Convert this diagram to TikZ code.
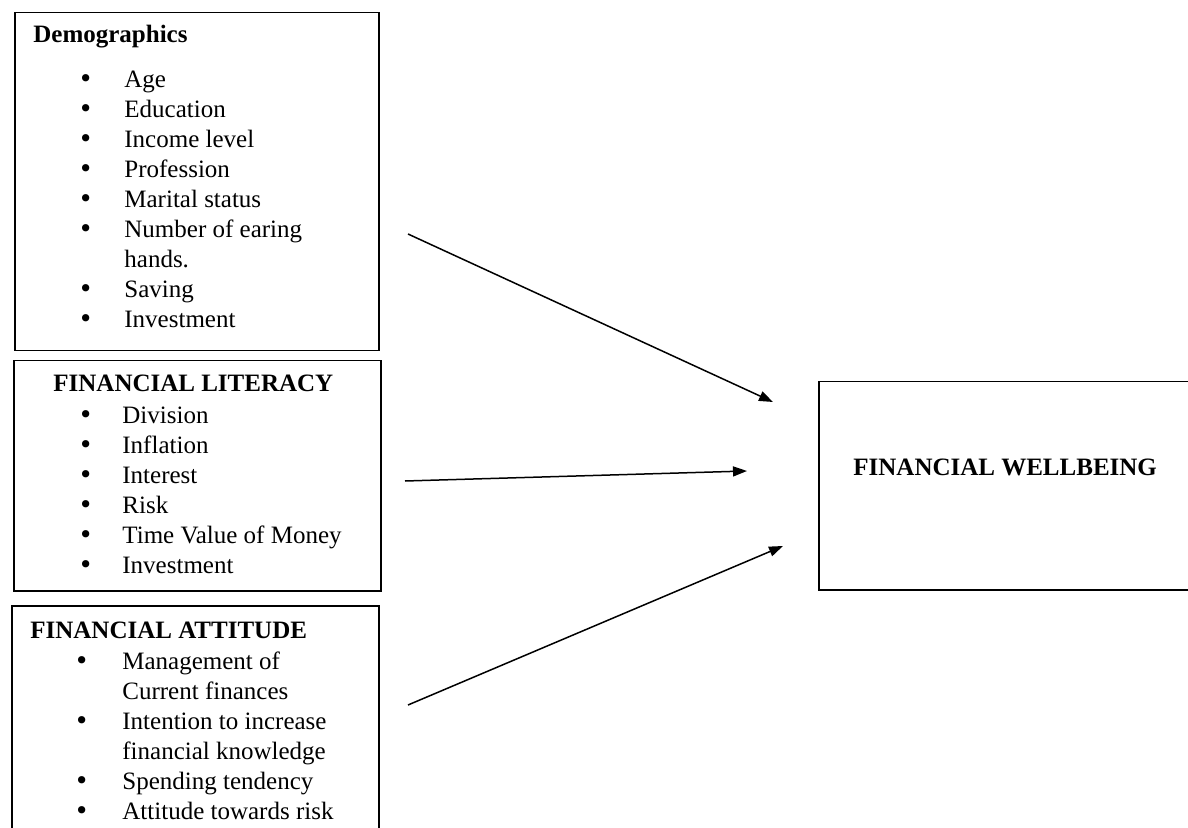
\documentclass[tikz,border=0pt]{standalone}
\usepackage{fontspec}
\setmainfont{Liberation Serif}
\newfontfamily\dotfont{DejaVu Sans}
\usetikzlibrary{arrows.meta}
\newcommand{\blt}{{\dotfont •}}

\begin{document}
\begin{tikzpicture}[x=0.5pt,y=-0.5pt,
  every node/.style={font=\fontsize{12.5}{15}\selectfont, inner sep=0pt},
  box/.style={draw, line width=0.75pt, anchor=north west},
  head/.style={font=\fontsize{12.5}{15}\selectfont\bfseries, anchor=base west},
  items/.style={anchor=base west},
  link/.style={line width=0.75pt, -{Triangle[length=7pt,width=5pt]}}]
\useasboundingbox (0,0) rectangle (1188,828);
% left boxes
\node[box, minimum width=182pt, minimum height=169pt] (demobox) at (14,12) {};
\node[head] (demohead) at (33,43) {Demographics};
\node[items] (demolist) at (78,88) {\begin{tabular}[t]{@{}p{23pt}@{}l@{}}
\blt & Age\\
\blt & Education\\
\blt & Income level\\
\blt & Profession\\
\blt & Marital status\\
\blt & Number of earing\\
 & hands.\\
\blt & Saving\\
\blt & Investment
\end{tabular}};
\node[box, minimum width=183.5pt, minimum height=115pt] (litbox) at (13,360) {};
\node[head] (lithead) at (53,392) {FINANCIAL LITERACY};
\node[items] (litlist) at (78,423) {\begin{tabular}[t]{@{}p{22pt}@{}l@{}}
\blt & Division\\
\blt & Inflation\\
\blt & Interest\\
\blt & Risk\\
\blt & Time Value of Money\\
\blt & Investment
\end{tabular}};
\node[box, minimum width=183.5pt, minimum height=125pt] (attbox) at (11,605) {};
\node[head] (atthead) at (30,638) {FINANCIAL ATTITUDE};
\node[items] (attlist) at (74,669) {\begin{tabular}[t]{@{}p{24pt}@{}l@{}}
\blt & Management of\\
 & Current finances\\
\blt & Intention to increase\\
 & financial knowledge\\
\blt & Spending tendency\\
\blt & Attitude towards risk
\end{tabular}};
% outcome
\node[box, minimum width=189pt, minimum height=104pt] (wellbox) at (818,381) {};
\node[head] (wellhead) at (853,475) {FINANCIAL WELLBEING};
% arrows
\coordinate (demoout) at (408,234);
\coordinate (demoin) at (773,402);
\coordinate (litout) at (405,481);
\coordinate (litin) at (747,471);
\coordinate (attout) at (408,705);
\coordinate (attin) at (783,546);
\draw[link] (demoout) -- (demoin);
\draw[link] (litout) -- (litin);
\draw[link] (attout) -- (attin);
\end{tikzpicture}
\end{document}
